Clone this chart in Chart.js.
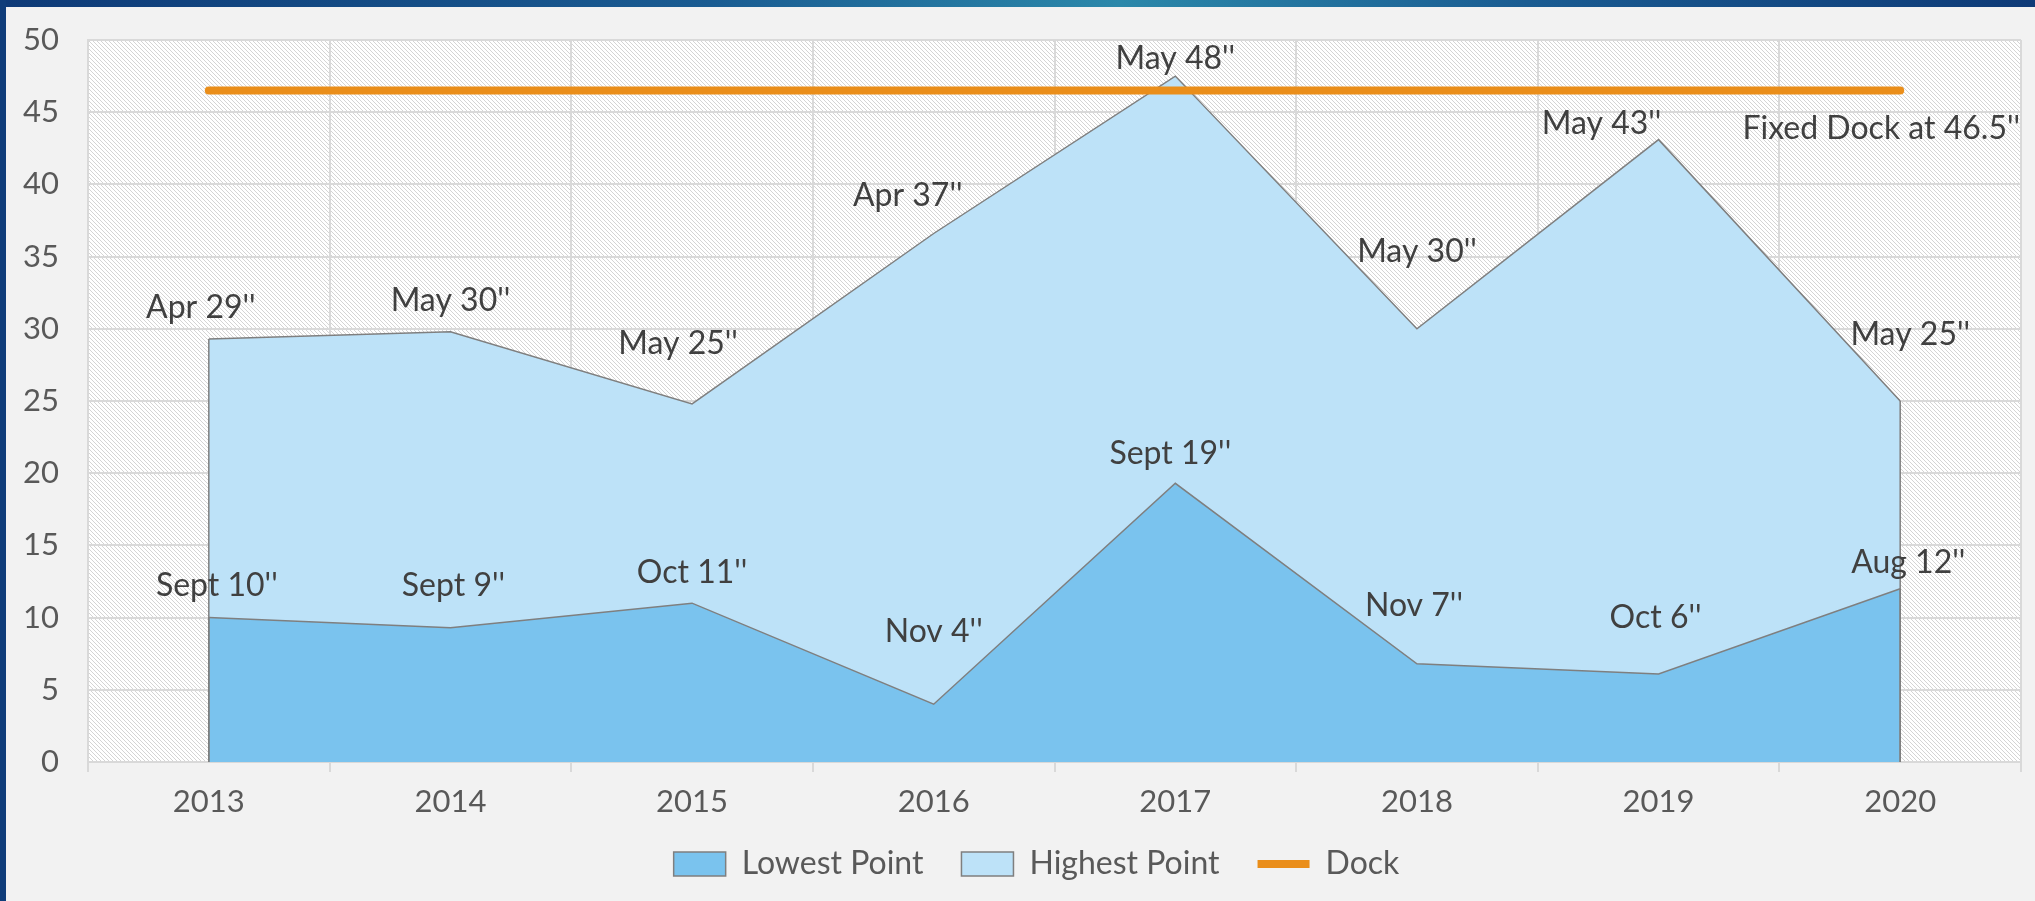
<!DOCTYPE html>
<html>
<head>
<meta charset="utf-8">
<script src="https://cdn.jsdelivr.net/npm/chart.js@4.4.1/dist/chart.umd.min.js"></script>
<style>
  html, body { margin: 0; padding: 0; background: #f2f2f2; }
  #wrap { position: relative; width: 2035px; height: 901px; overflow: hidden; }
  #topbar { position: absolute; left: 0; top: 0; width: 2035px; height: 7px;
    background: linear-gradient(90deg, #0e3a77 0%, #1a5c92 35%, #2b88aa 55%, #1a5c92 75%, #0e3a77 100%); }
  #leftbar { position: absolute; left: 0; top: 0; width: 6px; height: 901px; background: #0f3d7a; }
  canvas { position: absolute; left: 0; top: 0; }
</style>
</head>
<body>
<div id="wrap">
  <canvas id="chart" width="2035" height="901"></canvas>
  <div id="topbar"></div>
  <div id="leftbar"></div>
</div>
<script>
// data
const years = ["2013", "2014", "2015", "2016", "2017", "2018", "2019", "2020"];
const lowest = [10, 9.3, 11, 4, 19.3, 6.8, 6.1, 12];
const highest = [29.3, 29.8, 24.8, 36.6, 47.5, 30, 43.1, 25];
const dock = [46.5, 46.5, 46.5, 46.5, 46.5, 46.5, 46.5, 46.5];
const lowestText = ["Sept 10''", "Sept 9''", "Oct 11''", "Nov 4''", "Sept 19''", "Nov 7''", "Oct 6''", "Aug 12''"];
const highestText = ["Apr 29''", "May 30''", "May 25''", "Apr 37''", "May 48''", "May 30''", "May 43''", "May 25''"];
const dockText = "Fixed Dock at 46.5''";

// where each label sits relative to its point (px)
const lowShift = [[8, -32], [3, -42], [0, -30], [0, -73], [-5, -30], [-3, -58], [-3, -56], [8, -26]];
const highShift = [[-8, -31], [0, -31], [-14, -60], [-26, -38], [0, -17], [0, -77], [-57, -16], [10, -66]];

const FONT = "Lato, 'DejaVu Sans', sans-serif";
const TXT = "#595959";

function hatch() {
  let c = document.createElement("canvas");
  c.width = 4; c.height = 4;
  let g = c.getContext("2d");
  let img = g.createImageData(4, 4);
  for (let y = 0; y < 4; y++) {
    for (let x = 0; x < 4; x++) {
      let i = (y * 4 + x) * 4;
      let v = (x == y) ? 212 : 255;
      img.data[i] = v; img.data[i + 1] = v; img.data[i + 2] = v; img.data[i + 3] = 255;
    }
  }
  g.putImageData(img, 0, 0);
  return g.createPattern(c, "repeat");
}

const bgPlugin = {
  id: "plotBg",
  afterLayout(chart) {
    // nudge the legend up and a bit right, like in the original
    chart.legend.top -= 12;
    chart.legend.bottom -= 12;
    chart.legend.left += 26;
    chart.legend.right += 26;
  },
  beforeDraw(chart) {
    let a = chart.chartArea;
    let ctx = chart.ctx;
    ctx.save();
    ctx.fillStyle = hatch();
    ctx.fillRect(a.left, a.top, a.right - a.left, a.bottom - a.top);
    ctx.restore();
  }
};

const labelPlugin = {
  id: "pointLabels",
  afterDatasetsDraw(chart) {
    let ctx = chart.ctx;
    let base = chart.scales.y.getPixelForValue(0);
    ctx.save();
    // side edges of the two areas
    ctx.strokeStyle = "#7f7f7f";
    ctx.lineWidth = 1.5;
    [1, 0].forEach(d => {
      let pts = chart.getDatasetMeta(d).data;
      [pts[0], pts[pts.length - 1]].forEach(p => {
        ctx.beginPath();
        ctx.moveTo(p.x, base);
        ctx.lineTo(p.x, p.y);
        ctx.stroke();
      });
    });
    ctx.font = "32px " + FONT;
    ctx.fillStyle = "#404040";
    ctx.textAlign = "center";
    ctx.textBaseline = "middle";
    let lowMeta = chart.getDatasetMeta(0);
    let highMeta = chart.getDatasetMeta(1);
    lowMeta.data.forEach((p, i) => {
      ctx.fillText(lowestText[i], p.x + lowShift[i][0], p.y + lowShift[i][1]);
    });
    highMeta.data.forEach((p, i) => {
      ctx.fillText(highestText[i], p.x + highShift[i][0], p.y + highShift[i][1]);
    });
    let y = chart.scales.y.getPixelForValue(dock[0]);
    ctx.textAlign = "right";
    ctx.fillText(dockText, chart.chartArea.right - 1, y + 38);
    ctx.restore();
  }
};

new Chart(document.getElementById("chart"), {
  type: "line",
  data: {
    labels: years,
    datasets: [
      {
        label: "Lowest Point",
        data: lowest,
        fill: "origin",
        backgroundColor: "#7ac3ee",
        borderColor: "#7f7f7f",
        borderWidth: 1.5,
        pointRadius: 0,
        tension: 0,
        order: 1,
        pointStyle: "rect"
      },
      {
        label: "Highest Point",
        data: highest,
        fill: "origin",
        backgroundColor: "#bde2f8",
        borderColor: "#7f7f7f",
        borderWidth: 1.5,
        pointRadius: 0,
        tension: 0,
        order: 2,
        pointStyle: "rect"
      },
      {
        label: "Dock",
        data: dock,
        fill: false,
        borderColor: "#ea8e1a",
        backgroundColor: "#ea8e1a",
        borderWidth: 8,
        borderCapStyle: "round",
        pointRadius: 0,
        order: 0,
        pointStyle: "line"
      }
    ]
  },
  options: {
    responsive: false,
    animation: false,
    layout: { padding: { top: 40, right: 14, bottom: 0, left: 0 } },
    plugins: {
      tooltip: { enabled: false },
      legend: {
        position: "bottom",
        maxHeight: 79,
        labels: {
          usePointStyle: true,
          pointStyleWidth: 52,
          boxHeight: 24,
          padding: 38,
          color: TXT,
          font: { family: FONT, size: 32 },
          sort: (a, b) => a.datasetIndex - b.datasetIndex
        }
      }
    },
    scales: {
      x: {
        offset: true,
        grid: { offset: true, color: "#d9d9d9", lineWidth: 2, tickLength: 10, drawTicks: true },
        border: { color: "#d9d9d9", width: 2 },
        ticks: { color: TXT, font: { family: FONT, size: 31 }, padding: 11 },
        afterFit(scale) { scale.height = 60; }
      },
      y: {
        min: 0,
        max: 50,
        ticks: { stepSize: 5, color: TXT, font: { family: FONT, size: 31 }, padding: 29 },
        grid: { color: "#d9d9d9", lineWidth: 2, drawTicks: false },
        border: { color: "#d9d9d9", width: 2 },
        afterFit(scale) {
          scale.width = 88;
          scale.paddingTop = 0;
          scale.paddingBottom = 0;
        }
      }
    }
  },
  plugins: [bgPlugin, labelPlugin]
});
</script>
</body>
</html>
